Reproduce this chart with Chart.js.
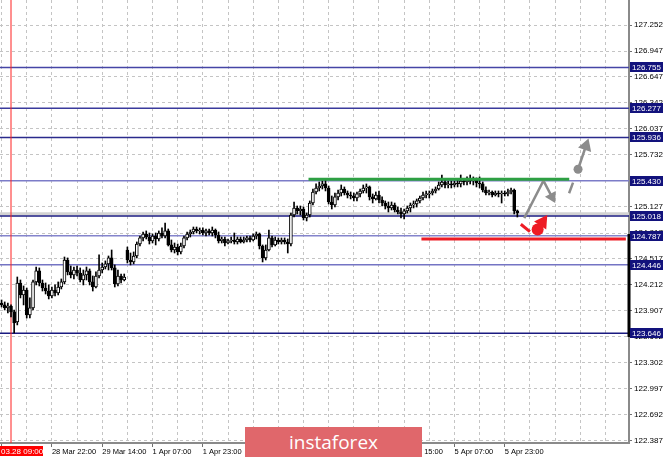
<!DOCTYPE html>
<html>
<head>
<meta charset="utf-8">
<script src="https://cdn.jsdelivr.net/npm/chart.js@4.4.1/dist/chart.umd.min.js"></script>
<style>
  html, body { margin: 0; padding: 0; background: #fff; }
  #wrap { position: relative; width: 665px; height: 459px; overflow: hidden; }
  #logo {
    position: absolute; left: 245px; top: 427px; width: 177px; height: 30px;
    background: #e0676b; color: #fff; font: 19px "Open Sans", sans-serif;
    text-align: center; line-height: 30px;
  }
</style>
</head>
<body>
<div id="wrap">
  <canvas id="chart" width="665" height="459"></canvas>
  <div id="logo">instaforex</div>
</div>
<script>
// H1 candles, 28 Mar 06:00 -> 6 Apr (one entry per bar)
const opens = [
  123.999, 123.976, 123.941, 123.964, 123.894, 123.777, 124.233, 124.093, 124.151, 123.859,
  123.941, 124.245, 124.374, 124.233, 124.174, 124.139, 124.081, 124.151, 124.116, 124.186,
  124.245, 124.502, 124.362, 124.327, 124.385, 124.350, 124.268, 124.327, 124.374, 124.245,
  124.186, 124.315, 124.385, 124.420, 124.456, 124.526, 124.409, 124.221, 124.315, 124.268,
  124.619, 124.502, 124.479, 124.549, 124.689, 124.760, 124.806, 124.771, 124.725, 124.783,
  124.748, 124.818, 124.783, 124.842, 124.678, 124.619, 124.654, 124.596, 124.666, 124.760,
  124.806, 124.830, 124.865, 124.842, 124.853, 124.818, 124.842, 124.818, 124.853, 124.795,
  124.725, 124.748, 124.701, 124.725, 124.736, 124.713, 124.748, 124.713, 124.736, 124.760,
  124.736, 124.783, 124.806, 124.666, 124.526, 124.619, 124.760, 124.678, 124.736, 124.713,
  124.736, 124.713, 124.689, 125.029, 125.111, 125.076, 125.099, 124.994, 125.029, 125.169,
  125.298, 125.345, 125.368, 125.392, 125.345, 125.181, 125.146, 125.240, 125.286, 125.333,
  125.286, 125.263, 125.251, 125.228, 125.275, 125.310, 125.345, 125.357, 125.240, 125.216,
  125.263, 125.204, 125.169, 125.134, 125.111, 125.146, 125.087, 125.064, 125.041, 125.076,
  125.111, 125.146, 125.158, 125.193, 125.228, 125.263, 125.275, 125.286, 125.310, 125.333,
  125.380, 125.415, 125.380, 125.392, 125.380, 125.403, 125.392, 125.427, 125.415, 125.438,
  125.427, 125.438, 125.403, 125.392, 125.321, 125.286, 125.298, 125.263, 125.286, 125.275,
  125.286, 125.275, 125.298, 125.321, 125.076
];
const highs = [
  124.034, 124.011, 123.999, 123.976, 123.917, 124.303, 124.268, 124.198, 124.174, 124.058,
  124.268, 124.420, 124.409, 124.268, 124.233, 124.210, 124.186, 124.210, 124.245, 124.280,
  124.537, 124.526, 124.432, 124.420, 124.432, 124.409, 124.385, 124.420, 124.397, 124.315,
  124.362, 124.561, 124.467, 124.491, 124.549, 124.619, 124.444, 124.385, 124.338, 124.338,
  124.654, 124.584, 124.596, 124.713, 124.783, 124.830, 124.842, 124.818, 124.806, 124.818,
  124.842, 124.877, 124.935, 124.865, 124.736, 124.701, 124.689, 124.701, 124.783, 124.830,
  124.853, 124.888, 124.888, 124.877, 124.877, 124.865, 124.865, 124.888, 124.865, 124.830,
  124.771, 124.771, 124.748, 124.771, 124.818, 124.771, 124.771, 124.771, 124.783, 124.783,
  124.806, 124.830, 124.818, 124.678, 124.678, 124.853, 124.783, 124.771, 124.760, 124.760,
  124.760, 124.748, 125.052, 125.181, 125.134, 125.134, 125.122, 125.052, 125.193, 125.333,
  125.392, 125.415, 125.427, 125.438, 125.368, 125.251, 125.286, 125.321, 125.380, 125.357,
  125.310, 125.298, 125.286, 125.298, 125.333, 125.380, 125.392, 125.368, 125.275, 125.298,
  125.310, 125.240, 125.193, 125.181, 125.181, 125.169, 125.122, 125.111, 125.099, 125.134,
  125.169, 125.193, 125.216, 125.251, 125.298, 125.310, 125.310, 125.333, 125.357, 125.415,
  125.497, 125.438, 125.427, 125.427, 125.427, 125.438, 125.497, 125.450, 125.474, 125.497,
  125.474, 125.462, 125.474, 125.415, 125.357, 125.321, 125.310, 125.310, 125.310, 125.310,
  125.310, 125.333, 125.345, 125.333, 125.087
];
const lows = [
  123.952, 123.917, 123.882, 123.835, 123.648, 123.742, 124.058, 123.976, 123.823, 123.823,
  123.917, 124.210, 124.198, 124.139, 124.104, 124.046, 124.058, 124.081, 124.093, 124.163,
  124.221, 124.327, 124.292, 124.280, 124.315, 124.245, 124.210, 124.268, 124.210, 124.139,
  124.174, 124.292, 124.350, 124.397, 124.385, 124.385, 124.186, 124.198, 124.233, 124.257,
  124.467, 124.444, 124.456, 124.526, 124.666, 124.725, 124.748, 124.689, 124.701, 124.678,
  124.725, 124.760, 124.760, 124.666, 124.596, 124.584, 124.561, 124.573, 124.643, 124.736,
  124.771, 124.806, 124.818, 124.806, 124.795, 124.783, 124.795, 124.783, 124.760, 124.701,
  124.701, 124.666, 124.689, 124.701, 124.689, 124.689, 124.701, 124.701, 124.713, 124.713,
  124.725, 124.748, 124.631, 124.479, 124.502, 124.608, 124.654, 124.666, 124.689, 124.689,
  124.689, 124.584, 124.666, 125.005, 125.041, 125.029, 124.970, 124.959, 125.005, 125.146,
  125.275, 125.310, 125.333, 125.310, 125.158, 125.099, 125.122, 125.204, 125.251, 125.263,
  125.228, 125.216, 125.193, 125.193, 125.240, 125.286, 125.286, 125.204, 125.169, 125.204,
  125.169, 125.134, 125.099, 125.064, 125.087, 125.064, 125.041, 124.994, 124.982, 125.052,
  125.064, 125.111, 125.122, 125.169, 125.204, 125.228, 125.228, 125.263, 125.286, 125.321,
  125.357, 125.345, 125.345, 125.345, 125.357, 125.357, 125.357, 125.380, 125.380, 125.392,
  125.380, 125.357, 125.345, 125.298, 125.263, 125.263, 125.240, 125.251, 125.240, 125.169,
  125.251, 125.251, 125.275, 125.041, 125.005
];
const closes = [
  123.976, 123.941, 123.964, 123.894, 123.765, 124.233, 124.093, 124.151, 123.859, 123.941,
  124.245, 124.374, 124.233, 124.174, 124.139, 124.081, 124.151, 124.116, 124.186, 124.245,
  124.502, 124.362, 124.327, 124.385, 124.350, 124.268, 124.327, 124.374, 124.245, 124.186,
  124.315, 124.385, 124.420, 124.456, 124.526, 124.409, 124.221, 124.315, 124.268, 124.303,
  124.502, 124.479, 124.549, 124.689, 124.760, 124.806, 124.771, 124.725, 124.783, 124.748,
  124.818, 124.783, 124.842, 124.678, 124.619, 124.654, 124.596, 124.666, 124.760, 124.806,
  124.830, 124.865, 124.842, 124.853, 124.818, 124.842, 124.818, 124.853, 124.795, 124.725,
  124.748, 124.701, 124.725, 124.736, 124.713, 124.748, 124.713, 124.736, 124.760, 124.736,
  124.783, 124.806, 124.666, 124.526, 124.619, 124.760, 124.678, 124.736, 124.713, 124.736,
  124.713, 124.689, 125.029, 125.111, 125.076, 125.099, 124.994, 125.029, 125.169, 125.298,
  125.345, 125.368, 125.392, 125.345, 125.181, 125.146, 125.240, 125.286, 125.333, 125.286,
  125.263, 125.251, 125.228, 125.275, 125.310, 125.345, 125.357, 125.240, 125.216, 125.263,
  125.204, 125.169, 125.134, 125.111, 125.146, 125.087, 125.064, 125.041, 125.076, 125.111,
  125.146, 125.158, 125.193, 125.228, 125.263, 125.275, 125.286, 125.310, 125.333, 125.380,
  125.415, 125.380, 125.392, 125.380, 125.403, 125.392, 125.427, 125.415, 125.438, 125.427,
  125.438, 125.403, 125.392, 125.321, 125.286, 125.298, 125.263, 125.286, 125.275, 125.286,
  125.275, 125.298, 125.321, 125.076, 125.052
];

// time axis: bar index -> label (every 16 bars), dashed grid every 8 bars
const labelBars = [16, 32, 48, 64, 80, 96, 112, 128, 144, 160];
const labelTexts = ['28 Mar 22:00', '29 Mar 14:00', '1 Apr 07:00', '1 Apr 23:00', '2 Apr 15:00',
  '3 Apr 07:00', '3 Apr 23:00', '4 Apr 15:00', '5 Apr 07:00', '5 Apr 23:00'];
const gridBars = [0, 8, 16, 24, 32, 40, 48, 56, 64, 72, 80, 88, 96, 104, 112, 120, 128, 136, 144,
  152, 160, 168, 176, 184, 192];

const priceTicks = [127.252, 126.947, 126.647, 126.342, 126.037, 125.732, 125.427, 125.127, 124.817,
  124.517, 124.212, 123.907, 123.602, 123.302, 122.997, 122.692, 122.387];
const priceMin = 122.36;
const priceMax = 127.545;

// horizontal levels drawn on the chart
const levelPrices = [126.755, 126.277, 125.936, 125.430, 125.018, 124.787, 124.446, 123.646];
const levelColors = ['#4646a6', '#3a3a9c', '#2a2a8c', '#7c7cc8', '#1a1a80', '#8484cc', '#7474c4', '#1a1a80'];

// drawn objects, as [bar, price]
const greenLine = [[97.6, 125.447], [180.5, 125.447]];
const redLine = [[133.5, 124.748], [198.5, 124.748]];
const bidLine = [[-0.5, 125.042], [199.5, 125.042]];
const grayPath = [[166.2, 124.992], [172.3, 125.430], [175.0, 125.240]];
const grayHead = [[175.0, 125.240]];
const grayDash = [[180.45, 125.283], [181.7, 125.407]];
const grayDot = [[183.3, 125.564]];
const grayUp = [[183.3, 125.564], [185.8, 125.836]];
const grayUpHead = [[185.8, 125.836]];
const redDash = [[165.1, 124.920], [168.0, 124.833]];
const redDropBase = [[170.45, 124.859]];
const redDropTip = [[172.0, 124.947]];
const rangeBar = [[199.5, 124.806], [199.5, 123.601]];

const cursorBar = 3;
const cursorLabel = '03.28 09:00';

const pts = (arr) => arr.map(([x, y]) => ({ x, y }));
const FONT = '"Liberation Sans", Arial, sans-serif';

const lineSet = (arr, color, width, order, extra) => Object.assign({
  type: 'line',
  data: pts(arr),
  borderColor: color,
  borderWidth: width,
  pointRadius: 0,
  pointHoverRadius: 0,
  fill: false,
  order
}, extra || {});

const markSet = (arr, color, style, radius, rotation) => ({
  type: 'line',
  data: pts(arr),
  showLine: false,
  pointStyle: style,
  pointRadius: radius,
  pointHoverRadius: radius,
  pointRotation: rotation,
  pointBackgroundColor: color,
  pointBorderColor: color,
  pointBorderWidth: 0,
  order: -2
});

const bodies = opens.map((o, i) => ({ x: i, y: [o, closes[i]] }));
const wicks = opens.map((o, i) => ({ x: i, y: [lows[i], highs[i]] }));
const bodyFill = opens.map((o, i) => (closes[i] >= o ? '#ffffff' : '#000000'));

const datasets = [
  {
    type: 'bar', data: bodies, grouped: false, barThickness: 3,
    backgroundColor: bodyFill, borderColor: '#000', borderWidth: 1, borderSkipped: false, order: 0
  },
  {
    type: 'bar', data: wicks, grouped: false, barThickness: 1,
    backgroundColor: '#000', borderWidth: 0, order: 1
  }
];
levelPrices.forEach((p, k) => {
  datasets.push(lineSet([[-0.5, p], [199.5, p]], levelColors[k], 1.5, 5));
});
datasets.push(lineSet(bidLine, '#d2d2d2', 3, 6));
datasets.push(lineSet([[cursorBar, priceMin], [cursorBar, priceMax]], '#ff2020', 1, 4));
datasets.push(lineSet(greenLine, '#2ea043', 3, -1));
datasets.push(lineSet(redLine, '#ee1c25', 3, -1));
datasets.push(lineSet(rangeBar, '#000', 3, -1, { clip: false }));
datasets.push(lineSet(grayPath, '#8c8c8c', 2.5, -1));
datasets.push(lineSet(grayDash, '#8c8c8c', 2.5, -1));
datasets.push(lineSet(grayUp, '#8c8c8c', 2.5, -1));
datasets.push(lineSet(redDash, '#ee1c25', 3, -1));
datasets.push(markSet(grayHead, '#8c8c8c', 'triangle', 7, 152));
datasets.push(markSet(grayUpHead, '#8c8c8c', 'triangle', 8, 19));
datasets.push(markSet(grayDot, '#8c8c8c', 'circle', 4.5, 0));
datasets.push(markSet(redDropBase, '#ee1c25', 'circle', 6, 0));
datasets.push(markSet(redDropTip, '#ee1c25', 'triangle', 8.5, 34));

// price boxes on the right axis and the crosshair time box
const axisBoxes = {
  id: 'axisBoxes',
  afterDraw(chart) {
    const { ctx, chartArea, scales: { x, y } } = chart;
    ctx.save();
    ctx.font = '8px ' + FONT;
    ctx.textBaseline = 'middle';
    ctx.textAlign = 'left';
    levelPrices.forEach((p) => {
      const py = Math.round(y.getPixelForValue(p));
      ctx.fillStyle = '#12127c';
      ctx.fillRect(chartArea.right + 1, py - 5, 33, 10);
      ctx.fillStyle = '#ffffff';
      ctx.fillText(p.toFixed(3), chartArea.right + 3, py + 0.5);
    });
    const cx = x.getPixelForValue(cursorBar);
    const left = Math.max(0, cx - 21);
    ctx.fillStyle = '#ff0000';
    ctx.fillRect(left, chartArea.bottom + 3, 43, 10);
    ctx.fillStyle = '#ffffff';
    ctx.fillText(cursorLabel, left + 1, chartArea.bottom + 8.5);
    ctx.restore();
  }
};

new Chart(document.getElementById('chart'), {
  type: 'bar',
  data: { datasets },
  options: {
    responsive: false,
    animation: false,
    devicePixelRatio: 1,
    layout: { padding: 0, autoPadding: false },
    scales: {
      x: {
        type: 'linear',
        min: -0.5,
        max: 199.5,
        offset: false,
        afterBuildTicks: (scale) => { scale.ticks = gridBars.map((v) => ({ value: v })); },
        afterFit: (scale) => { scale.height = 16; scale.paddingLeft = 0; scale.paddingRight = 0; },
        ticks: {
          autoSkip: false,
          maxRotation: 0,
          align: 'start',
          padding: 0,
          color: '#000',
          font: { family: FONT, size: 7.5 },
          callback: (v) => {
            const k = labelBars.indexOf(v);
            return k >= 0 ? labelTexts[k] : '';
          }
        },
        grid: {
          offset: false,
          color: '#c4c4c4',
          tickLength: 4,
          tickColor: (c) => (c.tick && (labelBars.includes(c.tick.value) || c.tick.value === 0) ? '#707070' : 'rgba(0,0,0,0)')
        },
        border: { color: '#8a8a8a', width: 2, dash: [3, 3] }
      },
      y: {
        type: 'linear',
        position: 'right',
        min: priceMin,
        max: priceMax,
        afterBuildTicks: (scale) => { scale.ticks = priceTicks.map((v) => ({ value: v })); },
        afterFit: (scale) => { scale.width = 36; scale.paddingTop = 0; scale.paddingBottom = 0; },
        ticks: {
          autoSkip: false,
          padding: 2,
          color: '#000',
          font: { family: FONT, size: 8 },
          callback: (v) => v.toFixed(3)
        },
        grid: { color: '#c4c4c4', tickLength: 3, tickColor: '#707070' },
        border: { color: '#8a8a8a', width: 2, dash: [3, 3] }
      }
    },
    plugins: {
      legend: { display: false },
      tooltip: { enabled: false }
    }
  },
  plugins: [axisBoxes]
});
</script>
</body>
</html>
